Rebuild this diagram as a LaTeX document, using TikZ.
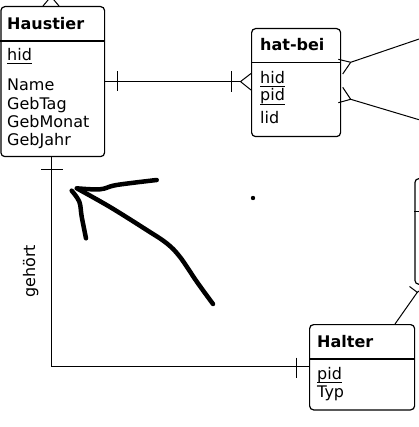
\documentclass[tikz,border=0pt]{standalone}
\usepackage{fontspec}
\setmainfont{DejaVu Sans}
\usetikzlibrary{calc}
\begin{document}
\begin{tikzpicture}[x=1pt,y=-1pt,
  box/.style={draw, line width=1.2pt, rounded corners=4pt, inner sep=0pt, anchor=north west},
  sep/.style={line width=1.2pt},
  conn/.style={line width=1pt},
  txt/.style={inner sep=0pt, anchor=base west, font=\fontsize{16}{18}\selectfont},
  ttl/.style={inner sep=0pt, anchor=base west, font=\fontsize{16}{18}\selectfont\bfseries},
  ul/.style={line width=1pt},
  ink/.style={line width=4.5pt, line cap=round, line join=round}]
\useasboundingbox (0,0) rectangle (418,427);

% ---------- boxes ----------
\node[box, minimum width=103.7pt, minimum height=150pt] (haustier) at (0.3,6) {};
\node[box, minimum width=89pt, minimum height=108pt] (hatbei) at (251,28) {};
\node[box, minimum width=30pt, minimum height=105.7pt] (rbox) at (414.3,178) {};
\node[box, minimum width=105pt, minimum height=85.3pt] (halter) at (309,324) {};

% separators
\draw[sep] (haustier.west |- 0,41) -- (haustier.east |- 0,41);
\draw[sep] (hatbei.west |- 0,62.5) -- (hatbei.east |- 0,62.5);
\draw[sep] (rbox.west |- 0,211.7) -- (rbox.east |- 0,211.7);
\draw[sep] (halter.west |- 0,359) -- (halter.east |- 0,359);

% ---------- texts ----------
\node[ttl] (t1) at (7,29.3) {Haustier};
\node[txt] (h1) at (7,60.5) {hid};
\draw[ul] ($(h1.base west)+(0,3.2)$) -- ($(h1.base east)+(0,3.2)$);
\node[txt] (a1) at (7,90.7) {Name};
\node[txt] (a2) at (7,109.3) {GebTag};
\node[txt] (a3) at (7,127.7) {GebMonat};
\node[txt] (a4) at (7,146) {GebJahr};

\node[ttl] (t2) at (260,51) {hat-bei};
\node[txt] (h2) at (260,83.3) {hid};
\draw[ul] ($(h2.base west)+(0,3)$) -- ($(h2.base east)+(0,3)$);
\node[txt] (p2) at (260,101) {pid};
\draw[ul] ($(p2.base west)+(0,4)$) -- ($(p2.base east)+(0,4)$);
\node[txt] (l2) at (260,123.3) {lid};

\node[ttl] (t3) at (317,347.7) {Halter};
\node[txt] (p3) at (317,379.3) {pid};
\draw[ul] ($(p3.base west)+(0,3.3)$) -- ($(p3.base east)+(0,3.3)$);
\node[txt] (y3) at (317,397.3) {Typ};

% ---------- connectors ----------
% Haustier top crow's foot
\coordinate (ht) at (51,-3.5);
\coordinate (htout) at (51,-12);
\draw[conn] (htout) -- (ht) -- (43,6);
\draw[conn] (ht) -- (59,6);

% Haustier -- hat-bei
\coordinate (hbtip) at (240.5,81.6);
\draw[conn] (haustier.east |- 0,81.6) -- (hbtip);
\draw[conn] (117,71.5) -- (117,91.5);
\draw[conn] (231.5,71.5) -- (231.5,92.5);
\draw[conn] (hatbei.west |- 0,73.5) -- (hbtip) -- (hatbei.west |- 0,90);

% hat-bei right, upper
\coordinate (u1) at (350.7,62.3);
\coordinate (u1out) at (425,37);
\draw[conn] (u1out) -- (u1) -- (338.3,59.3);
\draw[conn] (u1) -- (342.7,74);
% hat-bei right, lower
\coordinate (l1) at (350.7,99.3);
\coordinate (l1out) at (425,121.5);
\draw[conn] (l1out) -- (l1) -- (338.3,102.7);
\draw[conn] (l1) -- (342.7,87.3);

% Halter -- right box
\coordinate (rt) at (417.3,292.3);
\draw[conn] (halter.north west -| 395,0) -- (rt) -- (409.5,286.5);
\draw[conn] (rt) -- (425,287);

% Haustier -- Halter (gehört)
\draw[conn] (haustier.south west -| 51,0) -- (51,366.8) -- (halter.west |- 0,366.8);
\draw[conn] (41,170) -- (63,170);
\draw[conn] (296,357.5) -- (296,378);
\node[inner sep=0pt, rotate=90, font=\fontsize{16}{18}\selectfont] (gehoert) at (30.7,271.3) {gehört};

% ---------- handwriting ----------
\draw[ink] plot[smooth, tension=0.6] coordinates {(78,189) (110,207) (146.7,230) (166.7,243.3) (180,257) (197,282) (213,304)};
\draw[ink] plot[smooth, tension=0.6] coordinates {(76.7,188.3) (100,189.3) (116.7,185) (156.7,180)};
\draw[ink] plot[smooth, tension=0.6] coordinates {(71.7,190.7) (79.3,201.7) (81.7,216.7) (86,238.3)};
\fill (253,198) circle (2.2);
\end{tikzpicture}
\end{document}
